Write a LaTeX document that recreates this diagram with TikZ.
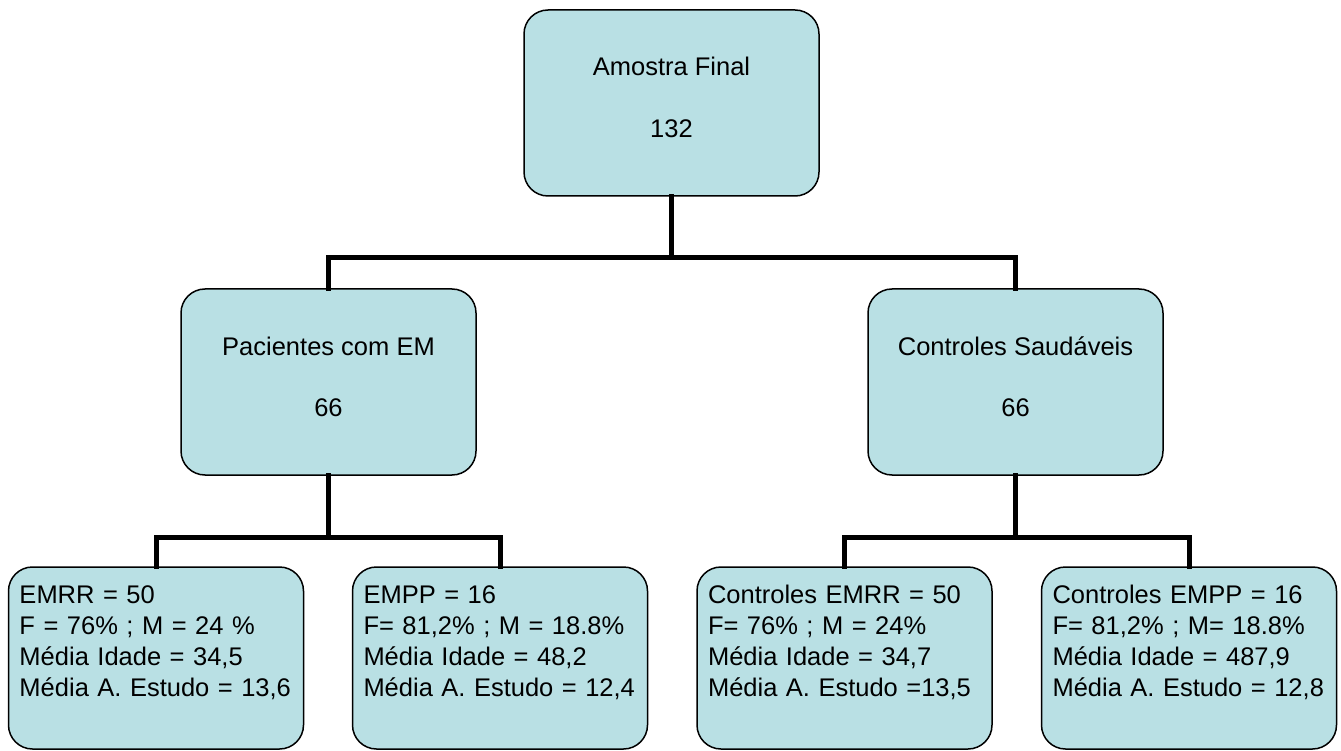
\documentclass[tikz,border=0pt]{standalone}
\usepackage{fontspec}
\setmainfont{Liberation Sans}
\definecolor{boxfill}{RGB}{185,224,228}
\begin{document}
\begin{tikzpicture}[x=1pt,y=-1pt,
  box/.style={draw=black, line width=1.5pt, fill=boxfill, rounded corners=24pt, inner sep=0pt},
  headbox/.style={box, minimum width=295pt, minimum height=186pt, align=center,
    font={\fontsize{25.5}{61.5}\selectfont}},
  leafbox/.style={box, minimum width=295pt, minimum height=182pt, inner xsep=11pt, inner ysep=0pt,
    text width=273pt, align=left, font={\fontsize{25.5}{31}\selectfont}},
  conn/.style={line width=5pt, line join=miter, line cap=rect}]
\useasboundingbox (0,0) rectangle (1341,751);

\node[headbox] (top) at (671.5,103) {\rule{0pt}{25pt}Amostra Final\\132\rule[-17.5pt]{0pt}{17.5pt}};
\node[headbox] (pl) at (328.5,382) {\rule{0pt}{25pt}Pacientes com EM\\66\rule[-17.5pt]{0pt}{17.5pt}};
\node[headbox] (pr) at (1015.5,382) {\rule{0pt}{25pt}Controles Saudáveis\\66\rule[-17.5pt]{0pt}{17.5pt}};

\node[leafbox] (b1) at (156,658) {\rule{0pt}{36pt}\mbox{EMRR = 50}\\\mbox{F = 76\% ; M = 24 \%}\\\mbox{Média Idade = 34,5}\\\mbox{Média A. Estudo = 13,6}\rule[-53pt]{0pt}{53pt}};
\node[leafbox] (b2) at (500,658) {\rule{0pt}{36pt}\mbox{EMPP = 16}\\\mbox{F= 81,2\% ; M = 18.8\%}\\\mbox{Média Idade = 48,2}\\\mbox{Média A. Estudo = 12,4}\rule[-53pt]{0pt}{53pt}};
\node[leafbox] (b3) at (844.5,658) {\rule{0pt}{36pt}\mbox{Controles EMRR = 50}\\\mbox{F= 76\% ; M = 24\%}\\\mbox{Média Idade = 34,7}\\\mbox{Média A. Estudo =13,5}\rule[-53pt]{0pt}{53pt}};
\node[leafbox] (b4) at (1189,658) {\rule{0pt}{36pt}\mbox{Controles EMPP = 16}\\\mbox{F= 81,2\% ; M= 18.8\%}\\\mbox{Média Idade = 487,9}\\\mbox{Média A. Estudo = 12,8}\rule[-53pt]{0pt}{53pt}};

\coordinate (j1) at (671.5,258);
\coordinate (j2) at (328.5,537);
\coordinate (j3) at (1015.5,537);

\draw[conn] (top.south) -- (j1);
\draw[conn] (pl.north) |- (j1) -| (pr.north);
\draw[conn] (pl.south) -- (j2);
\draw[conn] (b1.north) |- (j2) -| (b2.north);
\draw[conn] (pr.south) -- (j3);
\draw[conn] (b3.north) |- (j3) -| (b4.north);
\end{tikzpicture}
\end{document}
